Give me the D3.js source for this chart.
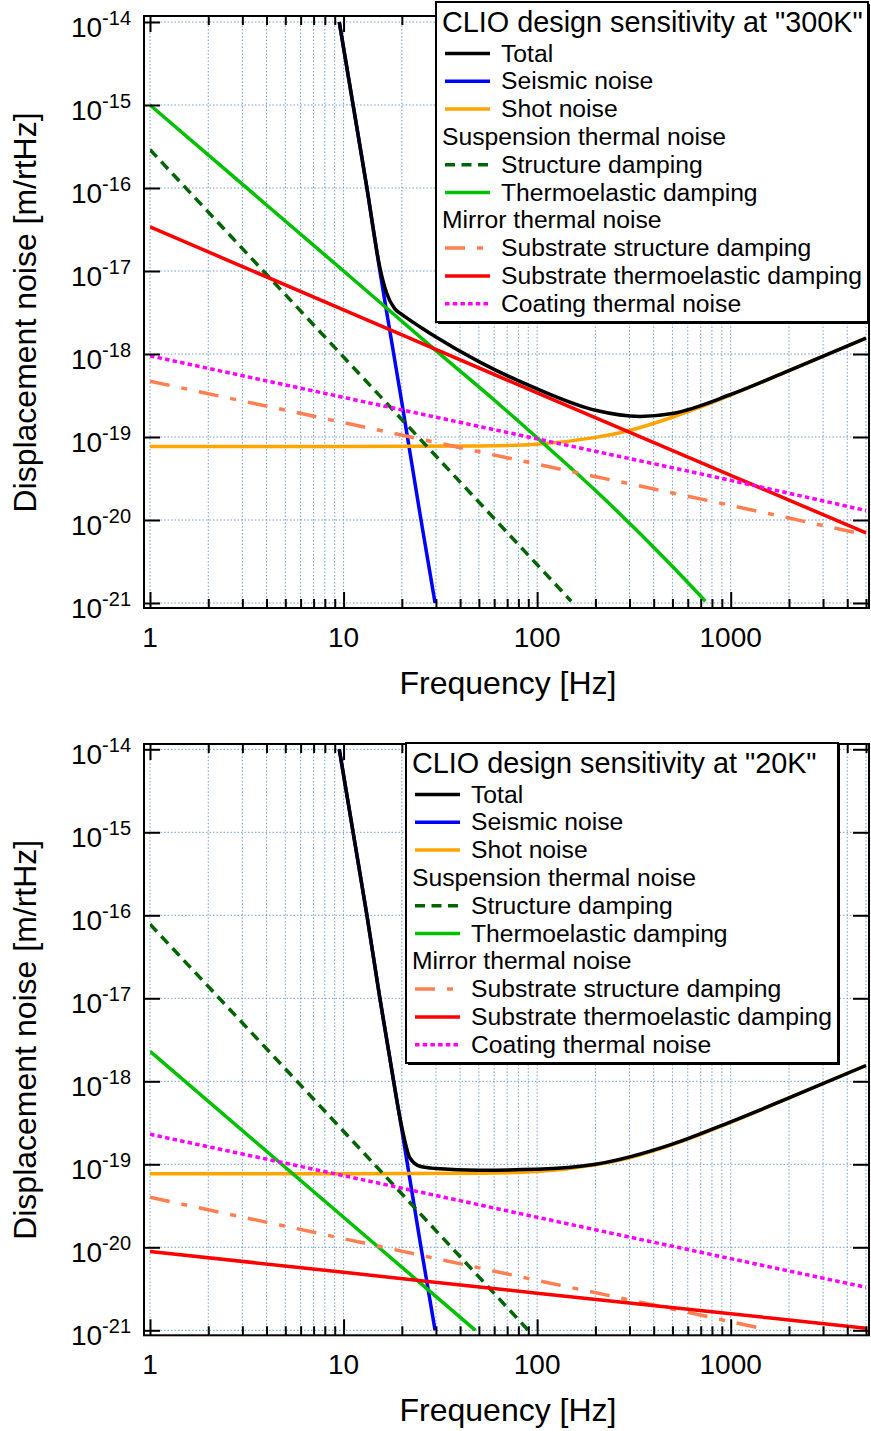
<!DOCTYPE html>
<html>
<head>
<meta charset="utf-8">
<script src="https://cdn.jsdelivr.net/npm/d3@7"></script>
<style>
body { margin: 0; background: #fff; }
text { font-family: "Liberation Sans", Arial, Helvetica, sans-serif; fill: #000; }
</style>
</head>
<body>
<div id="chart"></div>
<script>
// Canvas size
var w = 871;
var h = 1431;

// ---- data (frequency [Hz], displacement noise [m/rtHz]) ----

// shared by both temperatures
var seismicFreq  = [9.5, 11.2, 13.2, 15.4, 17, 20, 25, 29.7];
var seismicNoise = [1e-14, 1e-15, 1e-16, 1e-17, 2.5e-18, 2.6e-19, 1.07e-20, 1e-21];

var shotFreq  = [1, 10, 50, 100, 200, 300, 500, 700, 1000, 2000, 5000];
var shotNoise = [7.7e-20, 7.7e-20, 7.8e-20, 8.2e-20, 9.9e-20, 1.2e-19, 1.73e-19, 2.3e-19, 3.2e-19, 6.3e-19, 1.55e-18];

// 300K
var total300Freq  = [9.5, 11.2, 13.2, 15.4, 16.7, 18.4, 20, 25, 30, 50, 100, 200, 340, 500, 1000, 2000, 5000];
var total300Noise = [1e-14, 1e-15, 1e-16, 1.1e-17, 5.4e-18, 3.5e-18, 3.0e-18, 2.1e-18, 1.6e-18, 8.1e-19, 3.8e-19, 2.1e-19, 1.77e-19, 1.92e-19, 3.25e-19, 6.3e-19, 1.55e-18];
var susStruct300Freq  = [1, 10, 67, 150];
var susStruct300Noise = [2.9e-16, 9.2e-19, 7.9e-21, 1.05e-21];
var susTE300Freq  = [1, 10, 30, 64, 104, 212, 470, 740];
var susTE300Noise = [1e-15, 1e-17, 1.1e-18, 2.45e-19, 9e-20, 2.0e-20, 3.2e-21, 1.05e-21];
var subStruct300Freq  = [1, 10, 100, 1000, 5000];
var subStruct300Noise = [4.7e-19, 1.49e-19, 4.7e-20, 1.5e-20, 6.6e-21];
var subTE300Freq  = [1, 10, 100, 1000, 5000];
var subTE300Noise = [3.4e-17, 3.4e-18, 3.4e-19, 3.45e-20, 7e-21];
var coating300Freq  = [1, 10, 100, 1000, 5000];
var coating300Noise = [9.5e-19, 3e-19, 9.5e-20, 3e-20, 1.3e-20];

// 20K
var total20Freq  = [9.5, 11.2, 13.2, 15.4, 17, 20, 22, 25, 30, 50, 100, 200, 500, 1000, 2000, 5000];
var total20Noise = [1e-14, 1e-15, 1e-16, 1e-17, 2.5e-18, 2.8e-19, 1.2e-19, 9.4e-20, 8.9e-20, 8.5e-20, 8.7e-20, 1.0e-19, 1.75e-19, 3.25e-19, 6.3e-19, 1.55e-18];
var susStruct20Freq  = [1, 10, 50, 90];
var susStruct20Noise = [7.8e-17, 2.5e-19, 4.4e-21, 1.0e-21];
var susTE20Freq  = [1, 10, 48];
var susTE20Noise = [2.3e-18, 2.3e-20, 1.0e-21];
var subStruct20Freq  = [1, 10, 100, 1000, 1500];
var subStruct20Noise = [4.0e-20, 1.27e-20, 4.0e-21, 1.27e-21, 1.03e-21];
var subTE20Freq  = [1, 10, 100, 1000, 5000];
var subTE20Noise = [8.9e-21, 5e-21, 2.8e-21, 1.58e-21, 1.06e-21];
var coating20Freq  = [1, 10, 100, 1000, 5000];
var coating20Noise = [2.3e-19, 7.3e-20, 2.3e-20, 7.3e-21, 3.3e-21];

// axis ticks
var xMajor = [1, 10, 100, 1000];
var xLabels = ["1", "10", "100", "1000"];
var yMajor = [1e-14, 1e-15, 1e-16, 1e-17, 1e-18, 1e-19, 1e-20, 1e-21];
var yExponents = ["-14", "-15", "-16", "-17", "-18", "-19", "-20", "-21"];

// legend rows (null key = group header)
var legendLabels = ["Total", "Seismic noise", "Shot noise", "Suspension thermal noise",
    "Structure damping", "Thermoelastic damping", "Mirror thermal noise",
    "Substrate structure damping", "Substrate thermoelastic damping", "Coating thermal noise"];
var legendKeys = ["total", "seismic", "shot", null, "susStruct", "susTE", null, "subStruct", "subTE", "coating"];

// line styles
var styles = {
    total:     { color: "#000000", dash: null },
    seismic:   { color: "#0000ff", dash: null },
    shot:      { color: "#ffa500", dash: null },
    susStruct: { color: "#006400", dash: "10,6.5" },
    susTE:     { color: "#00c000", dash: null },
    subStruct: { color: "#ff7f50", dash: "20,12,6,12" },
    subTE:     { color: "#ff0000", dash: null },
    coating:   { color: "#ff00ff", dash: "4.5,3.2" }
};

function pairs(fs, vs) {
    return fs.map(function(f, i) { return { f: f, v: vs[i] }; });
}

var panels = [
    {
        top: 22, frameTop: 16, legendX: 436, legendY: 2,
        title: 'CLIO design sensitivity at "300K"',
        series: {
            seismic: pairs(seismicFreq, seismicNoise),
            shot: pairs(shotFreq, shotNoise),
            susStruct: pairs(susStruct300Freq, susStruct300Noise),
            susTE: pairs(susTE300Freq, susTE300Noise),
            subStruct: pairs(subStruct300Freq, subStruct300Noise),
            subTE: pairs(subTE300Freq, subTE300Noise),
            coating: pairs(coating300Freq, coating300Noise),
            total: pairs(total300Freq, total300Noise)
        }
    },
    {
        top: 749.3, frameTop: 744, legendX: 406, legendY: 743,
        title: 'CLIO design sensitivity at "20K"',
        series: {
            seismic: pairs(seismicFreq, seismicNoise),
            shot: pairs(shotFreq, shotNoise),
            susStruct: pairs(susStruct20Freq, susStruct20Noise),
            susTE: pairs(susTE20Freq, susTE20Noise),
            subStruct: pairs(subStruct20Freq, subStruct20Noise),
            subTE: pairs(subTE20Freq, subTE20Noise),
            coating: pairs(coating20Freq, coating20Noise),
            total: pairs(total20Freq, total20Noise)
        }
    }
];

var svg = d3.select("#chart")
    .append("svg")
    .attr("width", w)
    .attr("height", h);

// minor + major x positions for grid and ticks
var xAll = [];
[1, 10, 100, 1000].forEach(function(d) {
    for (var k = 1; k <= 9; k++) {
        if (d * k <= 5000) xAll.push(d * k);
    }
});
var xMinor = xAll.filter(function(v) { return xMajor.indexOf(v) < 0; });

panels.forEach(function(p, pi) {
    var x = d3.scaleLog().domain([1, 5000]).range([150, 866]);
    var y = d3.scaleLog().domain([1e-21, 1e-14]).range([p.top + 581, p.top]);
    var frameLeft = 144, frameRight = 869;
    var frameTop = p.frameTop, frameBottom = p.top + 586;

    var g = svg.append("g");

    // grid
    g.selectAll(".vgrid").data(xAll).enter().append("line")
        .attr("x1", function(d) { return x(d); })
        .attr("x2", function(d) { return x(d); })
        .attr("y1", y(1e-14)).attr("y2", y(1e-21))
        .attr("stroke", "#6e9fcf").attr("stroke-width", 1)
        .attr("stroke-dasharray", "1.5,2");
    g.selectAll(".hgrid").data(yMajor).enter().append("line")
        .attr("x1", x(1)).attr("x2", x(5000))
        .attr("y1", function(d) { return y(d); })
        .attr("y2", function(d) { return y(d); })
        .attr("stroke", "#6e9fcf").attr("stroke-width", 1)
        .attr("stroke-dasharray", "1.5,2");

    // clip to the data area
    var clipId = "clip" + pi;
    svg.append("clipPath").attr("id", clipId)
        .append("rect")
        .attr("x", x(1)).attr("y", y(1e-14) - 2)
        .attr("width", x(5000) - x(1) + 1)
        .attr("height", y(1e-21) - y(1e-14) + 3);

    var line = d3.line()
        .x(function(d) { return x(d.f); })
        .y(function(d) { return y(d.v); })
        .curve(d3.curveMonotoneX);

    var order = ["seismic", "shot", "susStruct", "susTE", "subStruct", "subTE", "coating", "total"];
    var curves = g.append("g").attr("clip-path", "url(#" + clipId + ")");
    order.forEach(function(key) {
        curves.append("path")
            .datum(p.series[key])
            .attr("d", line)
            .attr("fill", "none")
            .attr("stroke", styles[key].color)
            .attr("stroke-width", 3.5)
            .attr("stroke-dasharray", styles[key].dash);
    });

    // frame
    g.append("rect")
        .attr("x", frameLeft).attr("y", frameTop)
        .attr("width", frameRight - frameLeft)
        .attr("height", frameBottom - frameTop)
        .attr("fill", "none").attr("stroke", "#000").attr("stroke-width", 2);

    // ticks (pointing inward) on all four sides
    function tickGroup(axis, tx, ty) {
        var a = g.append("g").attr("transform", "translate(" + tx + "," + ty + ")").call(axis);
        a.select(".domain").remove();
        a.selectAll(".tick line").attr("stroke", "#000").attr("stroke-width", 2);
    }
    tickGroup(d3.axisBottom(x).tickValues(xMajor).tickSize(-16).tickFormat(""), 0, frameBottom);
    tickGroup(d3.axisBottom(x).tickValues(xMinor).tickSize(-9).tickFormat(""), 0, frameBottom);
    tickGroup(d3.axisTop(x).tickValues(xMajor).tickSize(-16).tickFormat(""), 0, frameTop);
    tickGroup(d3.axisTop(x).tickValues(xMinor).tickSize(-9).tickFormat(""), 0, frameTop);
    tickGroup(d3.axisLeft(y).tickValues(yMajor).tickSize(-16).tickFormat(""), frameLeft, 0);
    tickGroup(d3.axisRight(y).tickValues(yMajor).tickSize(-16).tickFormat(""), frameRight, 0);

    // x tick labels
    g.selectAll(".xlab").data(xMajor).enter().append("text")
        .attr("x", function(d) { return x(d); })
        .attr("y", y(1e-21) + 44)
        .attr("text-anchor", "middle")
        .style("font-size", "28px")
        .text(function(d, i) { return xLabels[i]; });

    // y tick labels 10^n
    yMajor.forEach(function(v, i) {
        var t = g.append("text")
            .attr("x", 131)
            .attr("y", y(v) + 15)
            .attr("text-anchor", "end");
        t.append("tspan").style("font-size", "28px").text("10");
        t.append("tspan").style("font-size", "20px").attr("dy", -12).text(yExponents[i]);
    });

    // axis titles
    g.append("text")
        .attr("x", (x(1) + x(5000)) / 2)
        .attr("y", y(1e-21) + 91)
        .attr("text-anchor", "middle")
        .style("font-size", "32px")
        .text("Frequency [Hz]");
    var cy = (y(1e-14) + y(1e-21)) / 2;
    g.append("text")
        .attr("transform", "translate(36," + cy + ") rotate(-90)")
        .attr("text-anchor", "middle")
        .style("font-size", "32px")
        .text("Displacement noise [m/rtHz]");

    // legend
    var lx = p.legendX, ly = p.legendY, lw = 432, lh = 320;
    var lg = g.append("g");
    lg.append("rect")
        .attr("x", lx + 2).attr("y", ly + 2)
        .attr("width", lw).attr("height", lh)
        .attr("fill", "#000");
    lg.append("rect")
        .attr("x", lx).attr("y", ly)
        .attr("width", lw).attr("height", lh)
        .attr("fill", "#fff").attr("stroke", "#000").attr("stroke-width", 2);
    lg.append("text")
        .attr("x", lx + 6).attr("y", ly + 30)
        .style("font-size", "28.8px")
        .text(p.title);
    legendLabels.forEach(function(label, i) {
        var by = ly + 59.5 + i * 27.8;
        var key = legendKeys[i];
        if (key) {
            lg.append("line")
                .attr("x1", lx + 9).attr("x2", lx + 54)
                .attr("y1", by - 8).attr("y2", by - 8)
                .attr("stroke", styles[key].color)
                .attr("stroke-width", 3.5)
                .attr("stroke-dasharray", styles[key].dash);
            lg.append("text")
                .attr("x", lx + 65).attr("y", by)
                .style("font-size", "24.7px")
                .text(label);
        } else {
            lg.append("text")
                .attr("x", lx + 6).attr("y", by)
                .style("font-size", "24.7px")
                .text(label);
        }
    });
});
</script>
</body>
</html>
